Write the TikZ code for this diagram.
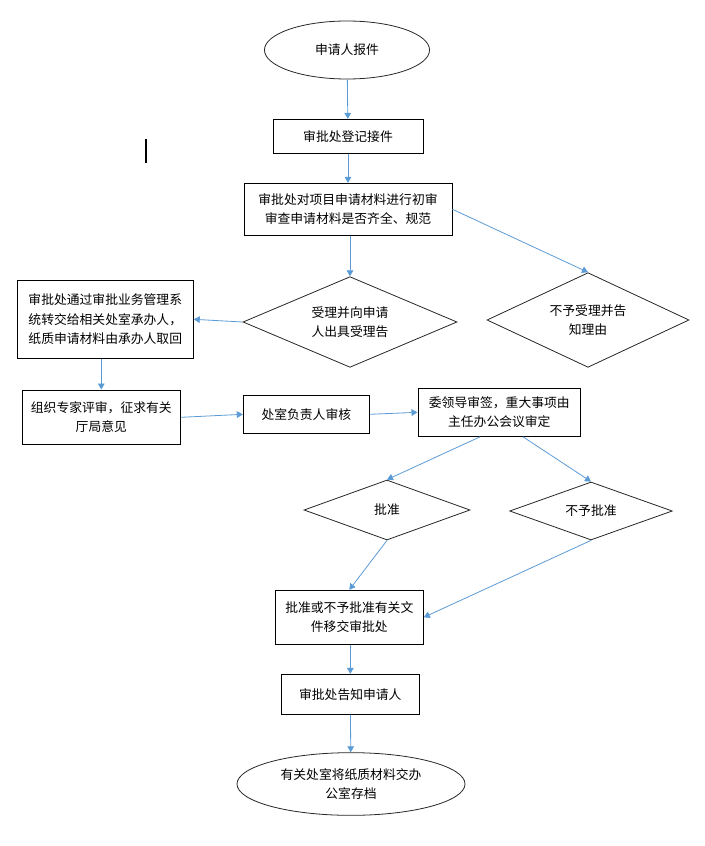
\documentclass[tikz,border=0pt]{standalone}
\usepackage{fontspec}
\setmainfont{Noto Sans CJK SC}
\usetikzlibrary{shapes.geometric,arrows.meta}
\definecolor{lineblue}{HTML}{5B9BD5}

\begin{document}
\begin{tikzpicture}[x=0.75pt,y=-0.75pt]
   \tikzstyle{every node}=[font=\fontsize{9.6pt}{14.5pt}\selectfont, align=center, inner sep=0pt]
   \tikzstyle{box}=[draw, rectangle, line width=0.7pt]
   \tikzstyle{oval}=[draw, ellipse, line width=0.6pt, draw=black!85]
   \tikzstyle{choice}=[draw, diamond, line width=0.6pt, draw=black!85]
   \tikzstyle{flow}=[draw=lineblue, line width=0.6pt, -{Triangle[width=5pt,length=4.5pt]}]
   \useasboundingbox (0,0) rectangle (704,846);

\node[oval, minimum width=123.8pt, minimum height=43.5pt] (apply) at (347,50) {申请人报件};
\node[box, minimum width=112.5pt, minimum height=25.5pt] (register) at (348,136.3) {审批处登记接件};
\node[box, minimum width=156pt, minimum height=39pt] (check) at (348,209.3) {审批处对项目申请材料进行初审\\审查申请材料是否齐全、规范};
\node[choice, aspect=2.35, minimum width=160.5pt, minimum height=68pt] (accept) at (350,322) {受理并向申请\\人出具受理告};
\node[choice, aspect=2.1, minimum width=151.5pt, minimum height=71pt] (refuse) at (588,320) {不予受理并告\\知理由};
\node[box, minimum width=132pt, minimum height=58.5pt] (route) at (105.3,319.3) {审批处通过审批业务管理系\\统转交给相关处室承办人，\\纸质申请材料由承办人取回};
\node[box, minimum width=119pt, minimum height=41pt] (expert) at (101.3,417.3) {组织专家评审，征求有关\\厅局意见};
\node[box, minimum width=94.5pt, minimum height=29pt] (head) at (306.3,414.3) {处室负责人审核};
\node[box, minimum width=122pt, minimum height=36pt] (sign) at (499.3,412.3) {委领导审签，重大事项由\\主任办公会议审定};
\node[choice, aspect=2.77, minimum width=124.5pt, minimum height=45pt] (approve) at (387,510) {批准};
\node[choice, aspect=2.8, minimum width=122pt, minimum height=43.5pt] (reject) at (591,511) {不予批准};
\node[box, minimum width=111pt, minimum height=40.5pt] (transfer) at (349.3,617.3) {批准或不予批准有关文\\件移交审批处};
\node[box, minimum width=103.5pt, minimum height=30pt] (notify) at (350.3,694.3) {审批处告知申请人};
\node[oval, minimum width=171pt, minimum height=47pt] (archive) at (351,784) {有关处室将纸质材料交办\\公室存档};

\draw[line width=1pt] (146,139) -- (146,163);

\draw[flow] (apply) -- (register);
\draw[flow] (register) -- (check);
\draw[flow] (check.south -| accept.north) -- (accept.north);
\draw[flow] (check.east) -- (refuse.north);
\draw[flow] (accept.west) -- (route.east);
\draw[flow] (expert.north |- route.south) -- (expert.north);
\draw[flow] (expert.east) -- (head.west);
\draw[flow] (head.east) -- (sign.west);
\draw[flow] (sign.232) -- (approve.north);
\draw[flow] (sign.-46) -- (reject.north);
\draw[flow] (approve.south) -- (transfer.north);
\draw[flow] (reject.south) -- (transfer.east);
\draw[flow] (transfer.south -| notify.north) -- (notify.north);
\draw[flow] (notify) -- (archive);

\end{tikzpicture}
\end{document}
